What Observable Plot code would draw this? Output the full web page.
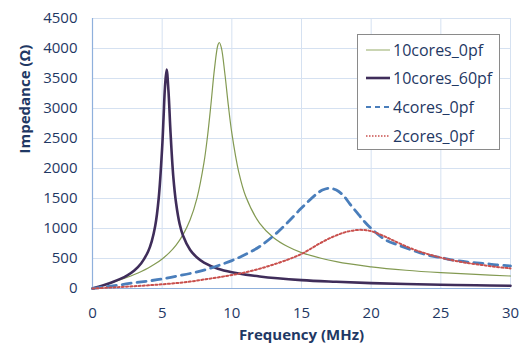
<!DOCTYPE html>
<html>
<head>
<meta charset="utf-8">
<script src="https://cdn.jsdelivr.net/npm/d3@7"></script>
<script src="https://cdn.jsdelivr.net/npm/@observablehq/plot@0.6"></script>
<style>
  html, body { margin: 0; padding: 0; background: #ffffff; }
  #wrap { position: relative; width: 526px; height: 350px; font-family: "Open Sans", sans-serif; }
  #legend { position: absolute; left: 357px; top: 34px; width: 143px; height: 116px; border: 1px solid #8a8a8a; background: #fff; box-sizing: border-box; }
  .item { position: absolute; left: 8px; height: 20px; display: flex; align-items: center; color: #1f3864; font-size: 16px; }
  .item svg { margin-right: 3px; }
</style>
</head>
<body>
<div id="wrap"></div>
<script>
// Series names
const seriesNames = ["10cores_0pf", "10cores_60pf", "4cores_0pf", "2cores_0pf"];
const seriesColors = ["#839a52", "#3f2d5a", "#4a7ebb", "#c9504d"];

// 10cores_0pf
const freqA = [0,0.5,1,1.5,2,2.5,3,3.5,4,4.5,5,5.5,6,6.5,7,7.5,8,8.25,8.5,8.75,9,9.1,9.25,9.5,9.75,10,10.5,11,12,13,14,15,17.5,20,22.5,25,27.5,30];
const zA = [0,35,70,107,146,187,233,284,342,411,493,594,724,898,1141,1507,2097,2528,3066,3652,4058,4100,4011,3579,3051,2590,1937,1533,1085,847,700,599,447,361,304,264,234,208];

// 10cores_60pf
const freqB = [0,0.5,1,1.5,2,2.5,3,3.5,4,4.25,4.5,4.75,5,5.1,5.2,5.32,5.45,5.6,5.8,6,6.25,6.5,7,7.5,8,9,10,12,15,17.5,20,22.5,25,27.5,30];
const zB = [0,35,71,112,160,220,301,421,622,787,1040,1500,2350,2850,3350,3650,3300,2600,1860,1420,1080,880,646,516,432,330,272,200,140,112,90,75,63,54,46];

// 4cores_0pf
const freqC = [0,1,2,3,4,5,6,7,8,9,10,11,12,13,14,15,16,16.5,17,17.5,18,18.5,19,19.5,20,21,22,23,24,25,26,27,28,29,30];
const zC = [0,30,62,95,125,158,205,250,305,380,465,570,700,880,1100,1340,1560,1640,1672,1640,1550,1400,1260,1120,1000,815,720,635,560,515,470,440,420,395,375];

// 2cores_0pf
const freqD = [0,1,2,3,4,5,6,7,8,9,10,11,12,13,14,14.5,15,15.5,16,16.5,17,17.5,18,18.5,19,19.5,20,20.5,21,21.5,22,23,24,25,26,27,28,29,30];
const zD = [0,12,25,38,53,70,90,115,150,185,225,270,330,400,480,525,575,640,710,775,835,885,928,958,975,975,955,915,865,810,755,655,578,515,462,422,390,360,335];

// Axis ticks and titles
const xTicks = [0,5,10,15,20,25,30];
const yTicks = [0,500,1000,1500,2000,2500,3000,3500,4000,4500];
const xTitle = "Frequency (MHz)";
const yTitle = "Impedance (Ω)";

const toRows = (fs, zs) => fs.map((f, i) => ({f, z: zs[i]}));
const dataA = toRows(freqA, zA), dataB = toRows(freqB, zB), dataC = toRows(freqC, zC), dataD = toRows(freqD, zD);

const textColor = "#1f3864";
const chart = Plot.plot({
  width: 526, height: 350,
  marginLeft: 92, marginRight: 16, marginTop: 18, marginBottom: 62,
  x: {domain: [0, 30]},
  y: {domain: [0, 4500]},
  style: {fontFamily: "'Open Sans', sans-serif", fontSize: "15px", color: textColor, background: "#ffffff", overflow: "visible"},
  marks: [
    Plot.gridX(xTicks, {stroke: "#d5e1f1", strokeOpacity: 1}),
    Plot.gridY(yTicks, {stroke: "#d5e1f1", strokeOpacity: 1}),
    Plot.ruleX([0], {stroke: "#8fb0dc", strokeWidth: 1.2}),
    Plot.ruleY([0], {stroke: "#8fb0dc", strokeWidth: 1.2}),
    Plot.axisX(xTicks, {tickSize: 0, tickPadding: 19, label: null, tickFormat: d => String(d), fill: textColor}),
    Plot.axisY(yTicks, {tickSize: 0, tickPadding: 15, label: null, tickFormat: d => String(d), fill: textColor}),
    Plot.text([xTitle], {frameAnchor: "bottom", dy: 51, fontWeight: "bold", fontSize: 15, fill: textColor}),
    Plot.text([yTitle], {frameAnchor: "left", rotate: -90, dx: -67, fontWeight: "bold", fontSize: 15, fill: textColor}),
    Plot.line(dataA, {x: "f", y: "z", stroke: seriesColors[0], strokeWidth: 1.2, curve: "catmull-rom"}),
    Plot.line(dataB, {x: "f", y: "z", stroke: seriesColors[1], strokeWidth: 2.6, curve: "catmull-rom"}),
    Plot.line(dataC, {x: "f", y: "z", stroke: seriesColors[2], strokeWidth: 2.8, strokeDasharray: "9,6", curve: "catmull-rom"}),
    Plot.line(dataD, {x: "f", y: "z", stroke: seriesColors[3], strokeWidth: 2, strokeDasharray: "2,2.2", curve: "catmull-rom"})
  ]
});
const wrap = document.getElementById("wrap");
wrap.appendChild(chart);

// Legend (HTML overlay)
const legend = document.createElement("div");
legend.id = "legend";
const dashes = [null, null, "5,4", "1.5,1.5"];
const widths = [1.5, 2.6, 2.2, 1.6];
const tops = [5, 33, 62, 91];
seriesNames.forEach((name, i) => {
  const item = document.createElement("div");
  item.className = "item";
  item.style.top = tops[i] + "px";
  const svgNS = "http://www.w3.org/2000/svg";
  const s = document.createElementNS(svgNS, "svg");
  s.setAttribute("width", 24); s.setAttribute("height", 10);
  const ln = document.createElementNS(svgNS, "line");
  ln.setAttribute("x1", 0); ln.setAttribute("x2", 24); ln.setAttribute("y1", 5); ln.setAttribute("y2", 5);
  ln.setAttribute("stroke", i === 0 ? "#b9c79a" : seriesColors[i]);
  ln.setAttribute("stroke-width", widths[i]);
  if (dashes[i]) ln.setAttribute("stroke-dasharray", dashes[i]);
  s.appendChild(ln);
  item.appendChild(s);
  const sp = document.createElement("span");
  sp.textContent = name;
  item.appendChild(sp);
  legend.appendChild(item);
});
wrap.appendChild(legend);
</script>
</body>
</html>
